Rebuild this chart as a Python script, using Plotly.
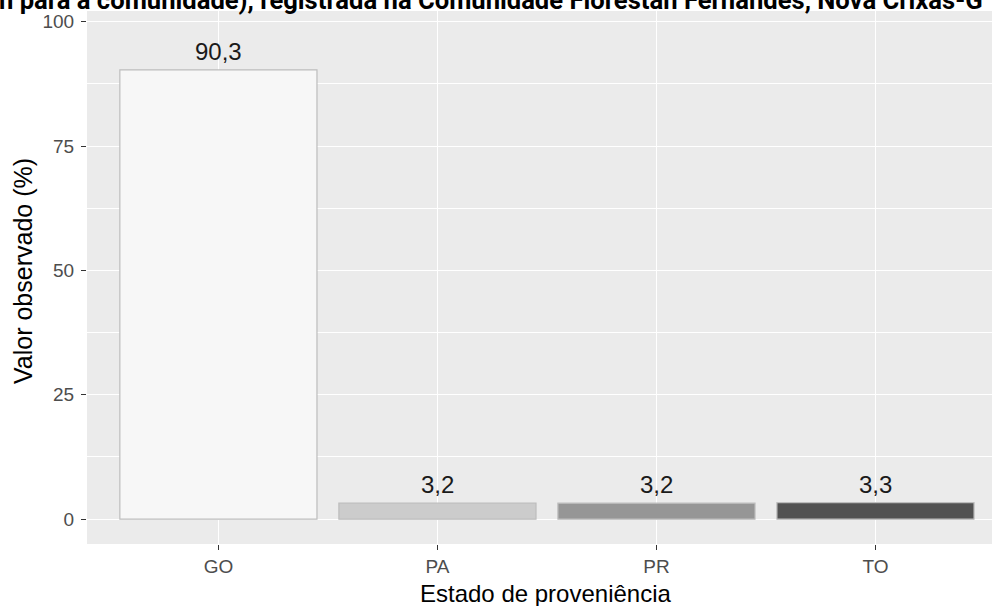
import plotly.graph_objects as go

categorias = ["GO", "PA", "PR", "TO"]
valores = [90.3, 3.2, 3.2, 3.3]
cores = ["#F7F7F7", "#CCCCCC", "#969696", "#525252"]
rotulos = [f"{v:.1f}".replace(".", ",") for v in valores]
y_ticks = [0, 25, 50, 75, 100]

titulo = "n para a comunidade), registrada na Comunidade Florestan Fernandes, Nova Crixás-G"
titulo_x = "Estado de proveniência"
titulo_y = "Valor observado (%)"

W, H = 992, 606
L, R, T, B = 87, 0, 11, 62
pw = W - L - R
ph = H - T - B

def px_x(p):
    return (p - L) / pw

def px_y(p):
    return (H - B - p) / ph

fig = go.Figure()
fig.add_trace(go.Bar(
    x=categorias, y=valores, width=0.9,
    marker=dict(color=cores, line=dict(color="#BDBDBD", width=1.2)),
    showlegend=False, hoverinfo="x+y",
))

annotations = []
for c, v, t in zip(categorias, valores, rotulos):
    annotations.append(dict(x=c, y=v, xref="x", yref="y", text=t, showarrow=False,
                            yanchor="bottom", yshift=3,
                            font=dict(family="Liberation Sans, Arial", size=24, color="#1A1A1A")))

annotations.append(dict(x=px_x(545.5), y=px_y(593), xref="paper", yref="paper", text=titulo_x,
                        showarrow=False, xanchor="center", yanchor="middle",
                        font=dict(family="Liberation Sans, Arial", size=24, color="#000000")))
annotations.append(dict(x=px_x(23), y=px_y(271), xref="paper", yref="paper", text=titulo_y,
                        showarrow=False, xanchor="center", yanchor="middle", textangle=-90,
                        font=dict(family="Liberation Sans, Arial", size=25, color="#000000")))
annotations.append(dict(x=px_x(-3), y=px_y(0), xref="paper", yref="paper", text="<b>" + titulo + "</b>",
                        showarrow=False, xanchor="left", yanchor="middle",
                        font=dict(family="Roboto, Arial", size=25.6, color="#000000")))

fig.update_layout(
    width=W, height=H,
    margin=dict(l=L, r=R, t=T, b=B, pad=0),
    paper_bgcolor="white", plot_bgcolor="#EBEBEB",
    annotations=annotations,
    bargap=0.1,
)
fig.update_xaxes(
    type="category", categoryorder="array", categoryarray=categorias,
    range=[-0.6, 3.532], showgrid=True, gridcolor="white", gridwidth=1.1,
    ticks="outside", ticklen=5, tickwidth=1.1, tickcolor="#333333",
    tickfont=dict(family="Liberation Sans, Arial", size=19, color="#4D4D4D"),
    showline=False, zeroline=False,
)
fig.update_yaxes(
    range=[-5, 102.15], tickvals=y_ticks, ticktext=[str(v) for v in y_ticks],
    showgrid=True, gridcolor="white", gridwidth=1.1,
    minor=dict(tickvals=[12.5, 37.5, 62.5, 87.5], showgrid=True, gridcolor="white", gridwidth=0.55, ticks=""),
    ticks="outside", ticklen=5, tickwidth=1.1, tickcolor="#333333", ticklabelstandoff=3,
    tickfont=dict(family="Liberation Sans, Arial", size=19, color="#4D4D4D"),
    showline=False, zeroline=False,
)

fig.write_html("out.html", config={"displayModeBar": False},
               post_script="document.body.style.margin='0px';document.body.style.overflow='hidden';")
